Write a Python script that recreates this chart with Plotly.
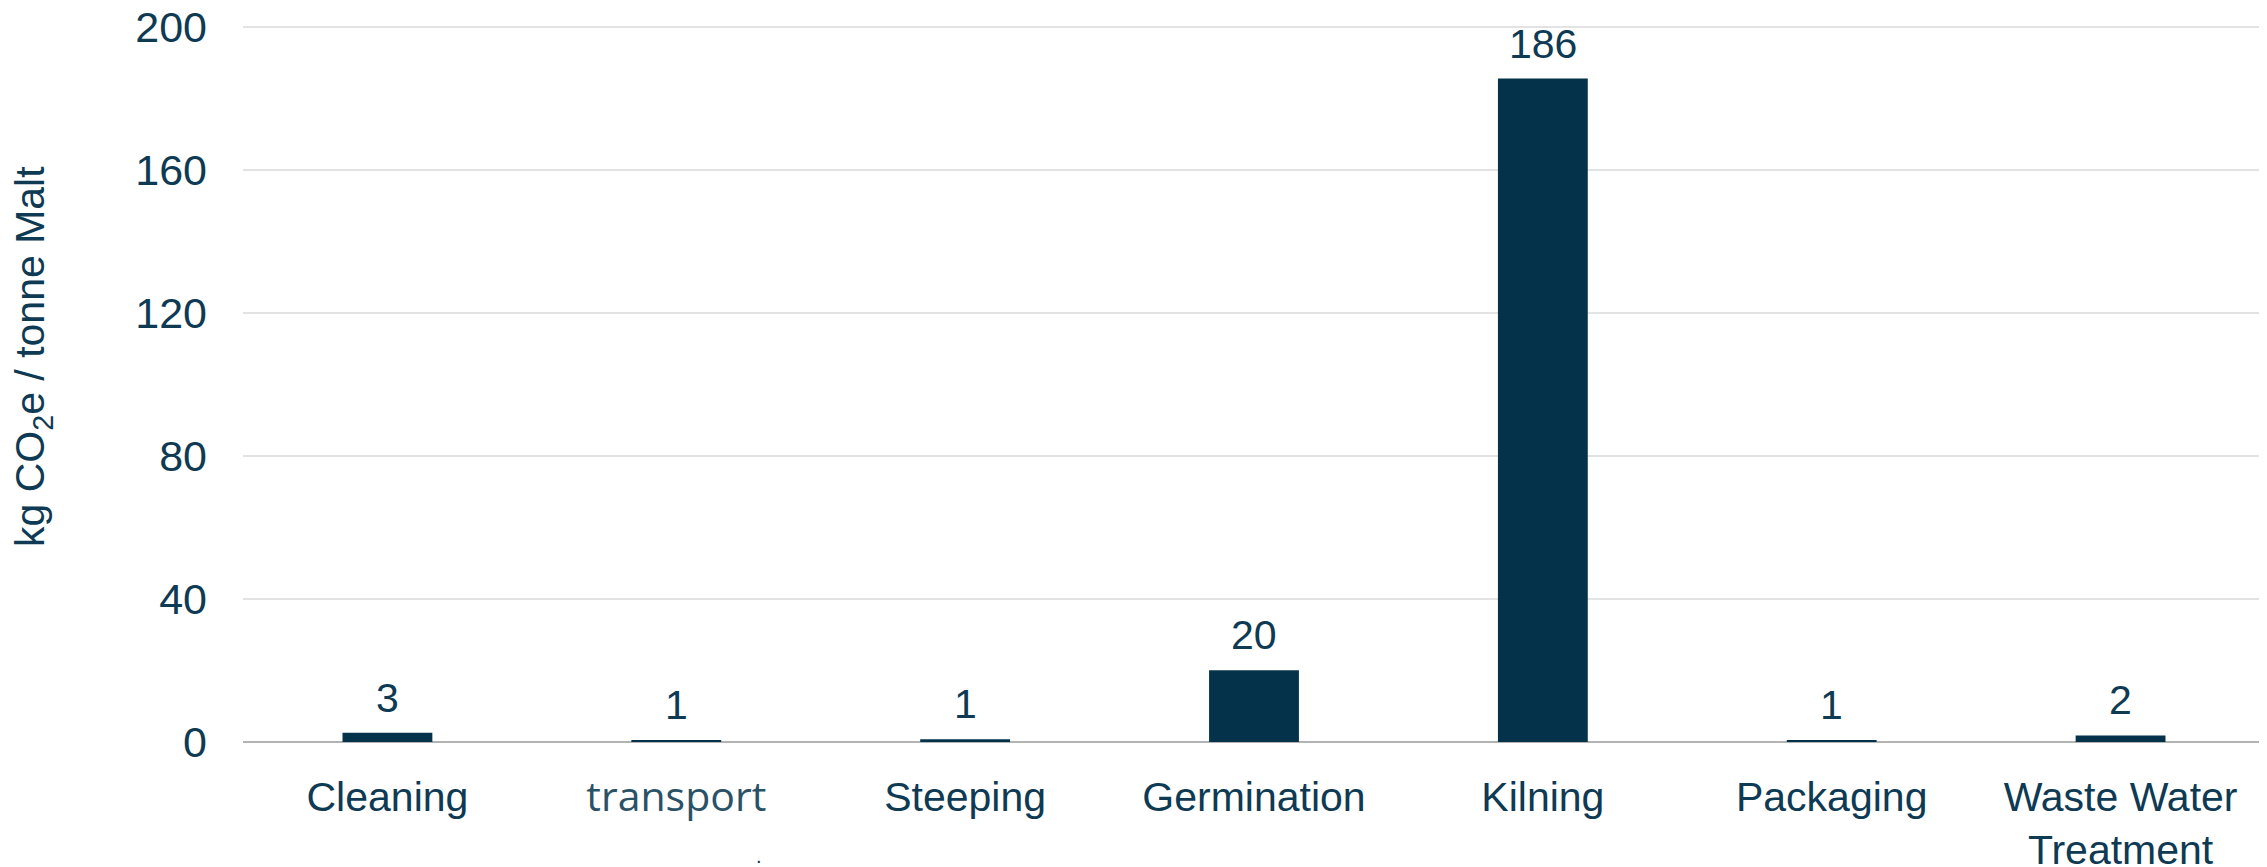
import plotly.graph_objects as go

categories = ["Cleaning", "transport", "Steeping", "Germination", "Kilning", "Packaging", "Waste Water<br>Treatment"]
tick_text = ["Cleaning",
             '<span style="font-family:\'Open Sans\'; color:#2a5267">transport</span>',
             "Steeping", "Germination", "Kilning", "Packaging", "Waste Water<br>Treatment"]
values = [2.6, 0.45, 0.75, 20.1, 185.6, 0.5, 1.85]
labels = ["3", "1", "1", "20", "186", "1", "2"]
y_ticks = [0, 40, 80, 120, 160, 200]

# page has an 8px default body margin; figure sized/offset to compensate
W, H = 2259, 859
L, R, T, B = 235, 2, 18, 125

TEXT = "#0e3a53"
BAR = "#03324a"
FONT = "Liberation Sans, Arial, sans-serif"

fig = go.Figure()
fig.add_trace(go.Bar(x=categories, y=values, marker=dict(color=BAR, line=dict(width=0)),
                     hoverinfo="skip", showlegend=False))

for c, v, t in zip(categories, values, labels):
    fig.add_annotation(x=c, y=v, xref="x", yref="y", text=t, showarrow=False,
                       yanchor="bottom", yshift=10, font=dict(family=FONT, size=41, color=TEXT))

plot_h = H - T - B
plot_w = W - L - R
# y-axis title (centre at page x~33, y~357)
fig.add_annotation(xref="paper", yref="paper", x=(33 - 8 - L) / plot_w, y=(H - B - (357 - 8)) / plot_h,
                   xanchor="center", yanchor="middle", textangle=-90, showarrow=False,
                   text="kg CO<sub>2</sub>e / tonne Malt",
                   font=dict(family=FONT, size=41, color=TEXT))

fig.add_annotation(xref="x", yref="paper", x=categories[1], y=0, xshift=83,
                   yshift=-127, yanchor="bottom", showarrow=False, text=".",
                   font=dict(family=FONT, size=20, color=TEXT))

fig.update_layout(
    width=W, height=H,
    margin=dict(l=L, r=R, t=T, b=B, pad=0, autoexpand=False),
    paper_bgcolor="white", plot_bgcolor="white",
    bargap=0.689,
    font=dict(family=FONT, color=TEXT, size=41),
)
fig.update_xaxes(tickmode="array", tickvals=categories, ticktext=tick_text,
                 tickfont=dict(family=FONT, size=41, color=TEXT),
                 showgrid=False, showline=False, ticks="", ticklabelstandoff=27,
                 automargin=False, ticklabeloverflow="allow", fixedrange=True)
fig.update_yaxes(range=[0, 200.3], tickvals=y_ticks, showgrid=True, gridcolor="#e3e3e3", gridwidth=1.5,
                 zeroline=True, zerolinecolor="#b3b3b3", zerolinewidth=2,
                 showline=False, ticks="", ticklabelstandoff=35, automargin=False,
                 ticklabeloverflow="allow",
                 tickfont=dict(family=FONT, size=43, color=TEXT), fixedrange=True)

fig.write_html("out.html", config={"displayModeBar": False})
